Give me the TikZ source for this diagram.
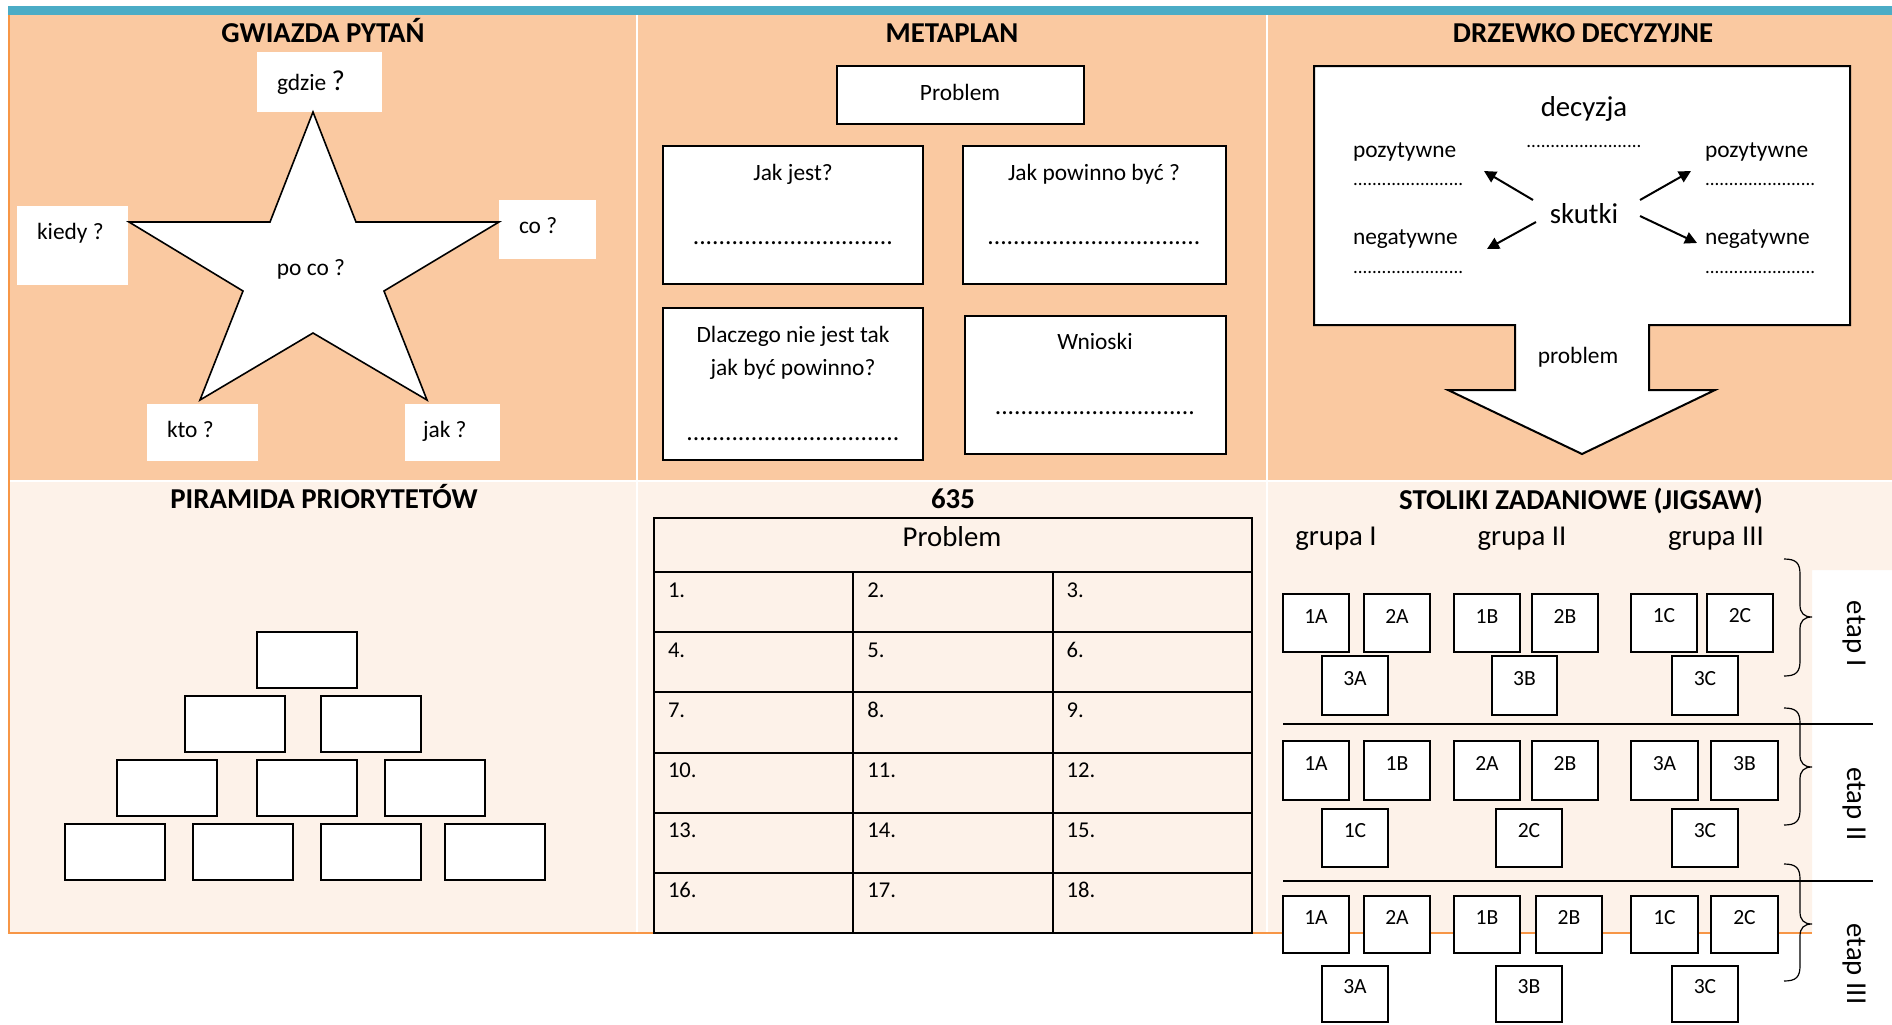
\documentclass[tikz,border=0pt]{standalone}
\usepackage{fontspec}
\setmainfont{Carlito}
\usetikzlibrary{arrows.meta,fit}

\definecolor{topfill}{RGB}{250,201,161}
\definecolor{botfill}{RGB}{253,242,233}
\definecolor{orline}{RGB}{247,150,70}
\definecolor{bluebar}{RGB}{75,172,198}

\newcommand\fbody{\fontsize{11.7}{14}\selectfont}
\newcommand\fbig{\fontsize{14.4}{17}\selectfont}
\newcommand\ftitle{\bfseries\fontsize{14.4}{17}\selectfont}
\newcommand\fsmall{\fontsize{10.8}{13}\selectfont}
\newcommand\fnumb{\fontsize{11.3}{13}\selectfont}
\newcommand\fdots{\fontsize{9.5}{11}\selectfont}
\newcommand\fmdots{\fontsize{12.8}{14}\selectfont}
\newcommand\dotrow[1]{\foreach \k in {1,...,#1}{.}}
\newcommand\jig[6]{\node[jbox,fit={(#2,#3) (#4,#5)}] (#1) {#6};}

\begin{document}
\begin{tikzpicture}[x=0.5pt,y=-0.5pt,
  every node/.style={inner sep=0pt,outer sep=0pt},
  ttl/.style={font=\ftitle,anchor=base},
  txt/.style={font=\fbody,anchor=base},
  txtw/.style={font=\fbody,anchor=base west},
  bigt/.style={font=\fbig,anchor=base},
  mdot/.style={font=\fmdots,anchor=base},
  wlab/.style={fill=white},
  wbox/.style={draw=black,fill=white,line width=1pt},
  cellbox/.style={draw=black,line width=1pt},
  jbox/.style={draw=black,fill=white,line width=0.85pt,font=\fsmall,text depth=3.5pt},
  dotsm/.style={font=\fdots,anchor=base west},
  conn/.style={line width=1pt,-{Triangle[length=6pt,width=6pt]}},
  sepline/.style={line width=0.7pt},
  bracel/.style={line width=0.6pt},
]
\useasboundingbox (0,0) rectangle (1892,1024);
\fill[white] (0,0) rectangle (1892,1024);

% ---------- backgrounds ----------
\fill[bluebar] (8,6) rectangle (1892,15);
\fill[topfill] (8,15) rectangle (1892,480);
\fill[botfill] (8,481) rectangle (1267,933);
\fill[botfill] (1267,481) -- (1892,481) -- (1892,570) -- (1812,570) -- (1812,933) -- (1267,933) -- cycle;
\draw[white,line width=1pt] (637,15) -- (637,933);
\draw[white,line width=1pt] (1267,15) -- (1267,933);
\draw[white,line width=1pt] (10,480.5) -- (1892,480.5);
\draw[orline,line width=1pt] (9,15) -- (9,933) -- (1812,933);

% ---------- GWIAZDA PYTAN ----------
\node[ttl] (t1) at (323,42) {GWIAZDA PYTAŃ};
\node[wlab,fit={(257,52) (382,112)}] (bgdzie) {};
\node[wlab,fit={(17,206) (128,285)}] (bkiedy) {};
\node[wlab,fit={(499,200) (596,259)}] (bco) {};
\node[wlab,fit={(147,404) (258,461)}] (bkto) {};
\node[wlab,fit={(405,404) (500,461)}] (bjak) {};
\draw[fill=white,line width=0.8pt,line join=miter]
  (313,112) -- (356,222) -- (499,222) -- (384,291) -- (427,400) -- (313,333)
  -- (200,400) -- (243,291) -- (129,222) -- (270,222) -- cycle;
\node[txt] (tgdzie) at (311,90) {gdzie {\fbig?}};
\node[txtw] (tkiedy) at (37,239) {kiedy ?};
\node[txtw] (tco) at (519,233) {co ?};
\node[txt] (tpoco) at (311,275) {po co ?};
\node[txtw] (tkto) at (167,437) {kto ?};
\node[txtw] (tjak) at (423,437) {jak ?};

% ---------- METAPLAN ----------
\node[ttl] (t2) at (952,42) {METAPLAN};
\node[wbox,fit={(837,66) (1084,124)}] (mprob) {};
\node[wbox,fit={(663,146) (923,284)}] (mjak) {};
\node[wbox,fit={(963,146) (1226,284)}] (mpow) {};
\node[wbox,fit={(663,308) (923,460)}] (mdla) {};
\node[wbox,fit={(965,316) (1226,454)}] (mwni) {};
\node[txt] (tmprob) at (960,100) {Problem};
\node[txt] (tmjak) at (793,180) {Jak jest?};
\node[mdot] (dmjak) at (793,244) {\dotrow{31}};
\node[txt] (tmpow) at (1094,180) {Jak powinno być ?};
\node[mdot] (dmpow) at (1094,244) {\dotrow{33}};
\node[txt] (tmdla1) at (793,342) {Dlaczego nie jest tak};
\node[txt] (tmdla2) at (793,375) {jak być powinno?};
\node[mdot] (dmdla) at (793,440) {\dotrow{33}};
\node[txt] (tmwni) at (1095,349) {Wnioski};
\node[mdot] (dmwni) at (1095,414) {\dotrow{31}};

% ---------- DRZEWKO DECYZYJNE ----------
\node[ttl] (t3) at (1583,42) {DRZEWKO DECYZYJNE};
\draw[fill=white,line width=1pt,line join=miter]
  (1314,66) -- (1850,66) -- (1850,325) -- (1649,325) -- (1649,390) -- (1715,390)
  -- (1582,454) -- (1448,390) -- (1515,390) -- (1515,325) -- (1314,325) -- cycle;
\node[bigt] (tdec) at (1584,116) {decyzja};
\node[font=\fdots,anchor=base] (ddec) at (1584,147) {\dotrow{24}};
\node[txtw] (tpozL) at (1353,157) {pozytywne};
\node[dotsm] (dpozL) at (1353,185) {\dotrow{23}};
\node[txtw] (tnegL) at (1353,244) {negatywne};
\node[dotsm] (dnegL) at (1353,273) {\dotrow{23}};
\node[txtw] (tpozR) at (1705,157) {pozytywne};
\node[dotsm] (dpozR) at (1705,185) {\dotrow{23}};
\node[txtw] (tnegR) at (1705,244) {negatywne};
\node[dotsm] (dnegR) at (1705,273) {\dotrow{23}};
\node[bigt] (tsku) at (1584,223) {skutki};
\node[txt] (tproblem) at (1578,363) {problem};
\coordinate (a1s) at (1533,200); \coordinate (a1e) at (1484,171);
\coordinate (a2s) at (1536,222); \coordinate (a2e) at (1487,249);
\coordinate (a3s) at (1640,200); \coordinate (a3e) at (1691,171);
\coordinate (a4s) at (1640,216); \coordinate (a4e) at (1697,243);
\draw[conn] (a1s) -- (a1e);
\draw[conn] (a2s) -- (a2e);
\draw[conn] (a3s) -- (a3e);
\draw[conn] (a4s) -- (a4e);

% ---------- PIRAMIDA PRIORYTETOW ----------
\node[ttl] (t4) at (324,508) {PIRAMIDA PRIORYTETÓW};
\node[wbox,fit={(257,632) (357,688)}] (p1) {};
\node[wbox,fit={(185,696) (285,752)}] (p2) {};
\node[wbox,fit={(321,696) (421,752)}] (p3) {};
\node[wbox,fit={(117,760) (217,816)}] (p4) {};
\node[wbox,fit={(257,760) (357,816)}] (p5) {};
\node[wbox,fit={(385,760) (485,816)}] (p6) {};
\node[wbox,fit={(65,824) (165,880)}] (p7) {};
\node[wbox,fit={(193,824) (293,880)}] (p8) {};
\node[wbox,fit={(321,824) (421,880)}] (p9) {};
\node[wbox,fit={(445,824) (545,880)}] (p10) {};

% ---------- 635 ----------
\node[ttl] (t5) at (953,508) {635};
\node[cellbox,fit={(654,518) (1252,572)}] (thead) {};
\node[bigt] (tthead) at (952,546) {Problem};
\foreach \r in {0,...,5}{\foreach \c in {0,1,2}{
  \pgfmathsetmacro\xa{654+\c*199.33}
  \pgfmathsetmacro\xb{\xa+199.33}
  \pgfmathsetmacro\ya{572+\r*60.17}
  \pgfmathsetmacro\yb{\ya+60.17}
  \pgfmathtruncatemacro\n{\r*3+\c+1}
  \node[cellbox,fit={(\xa,\ya) (\xb,\yb)}] (cell\n) {};
  \node[font=\fnumb,anchor=base west] (num\n) at (\xa+14,\ya+25) {\n.};
}}

% ---------- STOLIKI ZADANIOWE ----------
\node[ttl] (t6) at (1581,509) {STOLIKI ZADANIOWE (JIGSAW)};
\node[bigt] (g1) at (1336,545) {grupa I};
\node[bigt] (g2) at (1522,545) {grupa II};
\node[bigt] (g3) at (1716,545) {grupa III};
% stage I
\jig{s1a1}{1283}{594}{1349}{652}{1A}
\jig{s1a2}{1364}{594}{1430}{652}{2A}
\jig{s1b1}{1454}{594}{1520}{652}{1B}
\jig{s1b2}{1532}{594}{1598}{652}{2B}
\jig{s1c1}{1631}{594}{1697}{652}{1C}
\jig{s1c2}{1707}{594}{1773}{652}{2C}
\jig{s1a3}{1322}{656}{1388}{715}{3A}
\jig{s1b3}{1492}{656}{1557}{715}{3B}
\jig{s1c3}{1672}{656}{1738}{715}{3C}
% stage II
\jig{s2a1}{1283}{741}{1349}{800}{1A}
\jig{s2b1}{1364}{741}{1430}{800}{1B}
\jig{s2a2}{1454}{741}{1520}{800}{2A}
\jig{s2b2}{1532}{741}{1598}{800}{2B}
\jig{s2a3}{1631}{741}{1698}{800}{3A}
\jig{s2b3}{1711}{741}{1778}{800}{3B}
\jig{s2c1}{1322}{809}{1388}{867}{1C}
\jig{s2c2}{1496}{809}{1562}{867}{2C}
\jig{s2c3}{1672}{809}{1738}{867}{3C}
% stage III
\jig{s3a1}{1283}{896}{1349}{953}{1A}
\jig{s3a2}{1364}{896}{1430}{953}{2A}
\jig{s3b1}{1454}{896}{1520}{953}{1B}
\jig{s3b2}{1536}{896}{1602}{953}{2B}
\jig{s3c1}{1631}{896}{1698}{953}{1C}
\jig{s3c2}{1711}{896}{1778}{953}{2C}
\jig{s3a3}{1322}{966}{1388}{1022}{3A}
\jig{s3b3}{1496}{966}{1562}{1022}{3B}
\jig{s3c3}{1672}{966}{1738}{1022}{3C}
% separators
\coordinate (sep1L) at (1283,724); \coordinate (sep1R) at (1873,724);
\coordinate (sep2L) at (1283,881); \coordinate (sep2R) at (1873,881);
\draw[sepline] (sep1L) -- (sep1R);
\draw[sepline] (sep2L) -- (sep2R);
% braces
\foreach \yt/\ym/\yb in {559/617/676, 708/767/825, 864/924/981}{
  \draw[bracel] (1784,\yt) .. controls (1796,\yt) and (1800,\yt+4) .. (1800,\yt+15)
    -- (1800,\ym-12) .. controls (1800,\ym-4) and (1804,\ym) .. (1812,\ym)
    .. controls (1804,\ym) and (1800,\ym+4) .. (1800,\ym+12)
    -- (1800,\yb-15) .. controls (1800,\yb-4) and (1796,\yb) .. (1784,\yb);
}
\node[bigt,rotate=-90] (e1) at (1847,634) {etap I};
\node[bigt,rotate=-90] (e2) at (1847,804) {etap II};
\node[bigt,rotate=-90] (e3) at (1847,964) {etap III};
\end{tikzpicture}
\end{document}
